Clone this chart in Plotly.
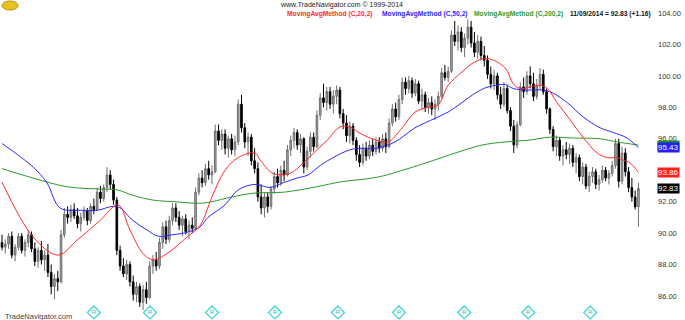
import plotly.graph_objects as go

# ---- OHLC data ----
opens = [89.4, 89.1, 89.3, 89.8, 88.6, 89.1, 89.8, 88.9, 89.4, 89.9,
         89.0, 88.2, 88.9, 88.3, 88.6, 87.5, 86.6, 87.1, 86.9, 89.9,
         91.2, 91.0, 91.5, 91.1, 90.6, 91.0, 91.4, 90.8, 91.7, 91.5,
         92.6, 92.2, 92.9, 93.7, 93.1, 92.1, 88.9, 87.9, 87.4, 88.0,
         86.9, 86.1, 86.6, 85.6, 86.4, 85.9, 87.9, 88.3, 87.9, 89.4,
         90.4, 89.6, 90.8, 91.6, 91.0, 90.5, 90.9, 90.1, 90.5, 90.3,
         92.6, 93.5, 93.2, 94.1, 93.7, 93.9, 96.5, 95.9, 96.3, 95.4,
         96.0, 95.3, 95.8, 98.2, 96.7, 95.8, 96.1, 94.6, 94.1, 92.3,
         91.6, 92.3, 91.7, 92.8, 93.6, 93.2, 94.0, 93.7, 95.3, 95.9,
         96.4, 95.6, 96.0, 94.2, 95.2, 96.1, 95.5, 97.5, 98.6, 98.3,
         99.0, 98.2, 98.7, 99.1, 97.6, 97.0, 96.2, 96.8, 95.9, 95.0,
         94.5, 95.4, 94.9, 95.6, 95.2, 95.8, 95.4, 96.0, 95.5, 97.0,
         97.9, 97.4, 98.5, 99.6, 99.2, 99.7, 98.9, 99.5, 98.4, 98.8,
         98.0, 98.3, 97.9, 98.2, 98.7, 100.2, 99.9, 100.3, 102.6, 102.2,
         102.8, 101.8, 102.4, 103.1, 102.1, 101.5, 102.2, 101.3, 101.0, 100.1,
         99.5, 100.0, 98.8, 98.2, 99.2, 97.8, 96.8, 95.6, 96.9, 99.3,
         99.0, 100.0, 99.5, 98.7, 99.4, 100.1, 99.0, 97.9, 96.6, 95.5,
         95.9, 94.9, 95.3, 95.0, 95.4, 94.5, 94.8, 93.6, 94.2, 93.0,
         93.6, 93.9, 93.1, 93.4, 94.0, 93.5, 93.8, 94.3, 95.7, 93.3,
         95.1, 93.9, 92.9, 92.3, 91.67]
highs = [89.9, 89.6, 90.0, 90.1, 89.3, 90.0, 90.0, 89.6, 90.2, 90.1,
         89.4, 89.1, 89.5, 88.9, 89.3, 88.0, 87.4, 87.6, 90.2, 91.6,
         91.7, 91.8, 91.9, 91.6, 91.3, 91.7, 91.6, 91.9, 92.2, 92.9,
         93.0, 93.1, 94.2, 94.0, 93.4, 92.3, 89.2, 88.4, 88.3, 88.2,
         87.3, 86.9, 86.8, 86.7, 86.9, 88.2, 88.6, 88.8, 89.7, 90.7,
         90.8, 91.1, 91.9, 91.9, 91.4, 91.1, 91.2, 90.8, 91.0, 92.9,
         93.8, 94.0, 94.4, 94.6, 94.3, 96.9, 96.9, 96.6, 96.6, 96.2,
         96.3, 96.2, 98.5, 98.8, 97.0, 96.4, 96.3, 95.4, 94.5, 93.1,
         92.6, 92.6, 93.0, 93.9, 94.1, 94.3, 94.6, 95.6, 96.2, 96.7,
         96.6, 96.3, 96.1, 95.5, 96.4, 96.4, 97.8, 98.9, 99.5, 99.3,
         99.3, 99.1, 99.4, 99.3, 97.9, 97.5, 97.1, 97.0, 96.1, 95.6,
         95.7, 95.8, 95.9, 96.0, 96.1, 96.1, 96.3, 96.4, 97.3, 98.2,
         98.3, 98.8, 99.9, 99.9, 100.0, 99.9, 99.8, 99.7, 99.2, 99.0,
         98.6, 98.7, 98.5, 99.0, 100.5, 100.7, 100.6, 102.9, 103.5, 103.2,
         103.1, 102.7, 103.6, 103.5, 102.8, 102.6, 102.5, 101.9, 101.3, 100.6,
         100.4, 100.2, 99.3, 99.6, 99.4, 98.0, 97.2, 97.1, 99.6, 99.9,
         100.3, 100.6, 100.2, 99.8, 100.5, 100.4, 99.2, 98.0, 96.8, 96.2,
         96.1, 95.6, 95.8, 95.7, 95.6, 95.1, 95.0, 94.5, 94.4, 93.9,
         94.2, 94.1, 93.7, 94.3, 94.2, 94.0, 94.6, 96.0, 96.0, 95.5,
         95.4, 94.2, 93.5, 92.7, 93.2]
lows = [88.9, 88.7, 89.0, 88.4, 88.2, 88.9, 88.7, 88.5, 89.1, 88.8,
        87.9, 87.8, 88.0, 87.6, 87.2, 86.1, 85.8, 86.3, 86.8, 89.7,
        90.6, 90.7, 90.9, 90.3, 90.1, 90.8, 90.5, 90.6, 91.2, 91.4,
        91.9, 92.0, 92.6, 92.8, 91.8, 88.6, 87.6, 87.2, 87.0, 86.6,
        85.7, 85.6, 85.3, 85.1, 85.5, 85.8, 87.4, 87.6, 87.7, 89.0,
        89.3, 89.4, 90.5, 90.7, 90.2, 89.8, 89.9, 89.6, 90.0, 90.2,
        92.4, 92.9, 93.0, 93.4, 93.1, 93.8, 95.6, 95.3, 95.0, 94.8,
        95.0, 94.9, 95.6, 96.4, 95.4, 94.9, 94.3, 93.8, 92.0, 91.2,
        91.0, 91.3, 91.5, 92.5, 92.9, 93.0, 93.3, 93.6, 94.9, 95.4,
        95.3, 95.1, 93.8, 94.0, 94.8, 95.2, 95.4, 97.2, 98.0, 97.8,
        97.9, 97.6, 98.2, 97.3, 96.6, 95.8, 95.7, 95.6, 94.6, 94.2,
        94.3, 94.6, 94.7, 94.9, 95.0, 95.1, 95.2, 95.1, 95.4, 96.8,
        97.1, 97.2, 98.2, 98.8, 98.9, 98.6, 98.7, 98.2, 97.9, 97.7,
        97.6, 97.5, 97.2, 97.8, 98.6, 99.7, 99.6, 100.2, 101.9, 101.6,
        101.5, 101.2, 102.0, 101.8, 101.2, 101.1, 101.0, 100.6, 99.8, 99.2,
        99.1, 98.5, 97.9, 98.0, 97.6, 96.5, 95.1, 95.4, 96.8, 98.6,
        98.8, 99.2, 98.4, 98.5, 99.1, 98.8, 97.6, 96.3, 95.2, 94.9,
        94.6, 94.3, 94.7, 94.4, 94.2, 93.8, 93.3, 93.1, 92.8, 92.6,
        93.2, 92.8, 92.7, 93.2, 93.3, 93.1, 93.6, 94.1, 92.9, 93.1,
        93.6, 92.6, 92.0, 91.5, 90.4]
closes = [89.1, 89.3, 89.8, 88.6, 89.1, 89.8, 88.9, 89.4, 89.9, 89.0,
          88.2, 88.9, 88.3, 88.6, 87.5, 86.6, 87.1, 86.9, 89.9, 91.2,
          91.0, 91.5, 91.1, 90.6, 91.0, 91.4, 90.8, 91.7, 91.5, 92.6,
          92.2, 92.9, 93.7, 93.1, 92.1, 88.9, 87.9, 87.4, 88.0, 86.9,
          86.1, 86.6, 85.6, 86.4, 85.9, 87.9, 88.3, 87.9, 89.4, 90.4,
          89.6, 90.8, 91.6, 91.0, 90.5, 90.9, 90.1, 90.5, 90.3, 92.6,
          93.5, 93.2, 94.1, 93.7, 93.9, 96.5, 95.9, 96.3, 95.4, 96.0,
          95.3, 95.8, 98.2, 96.7, 95.8, 96.1, 94.6, 94.1, 92.3, 91.6,
          92.3, 91.7, 92.8, 93.6, 93.2, 94.0, 93.7, 95.3, 95.9, 96.4,
          95.6, 96.0, 94.2, 95.2, 96.1, 95.5, 97.5, 98.6, 98.3, 99.0,
          98.2, 98.7, 99.1, 97.6, 97.0, 96.2, 96.8, 95.9, 95.0, 94.5,
          95.4, 94.9, 95.6, 95.2, 95.8, 95.4, 96.0, 95.5, 97.0, 97.9,
          97.4, 98.5, 99.6, 99.2, 99.7, 98.9, 99.5, 98.4, 98.8, 98.0,
          98.3, 97.9, 98.2, 98.7, 100.2, 99.9, 100.3, 102.6, 102.2, 102.8,
          101.8, 102.4, 103.1, 102.1, 101.5, 102.2, 101.3, 101.0, 100.1, 99.5,
          100.0, 98.8, 98.2, 99.2, 97.8, 96.8, 95.6, 96.9, 99.3, 99.0,
          100.0, 99.5, 98.7, 99.4, 100.1, 99.0, 97.9, 96.6, 95.5, 95.9,
          94.9, 95.3, 95.0, 95.4, 94.5, 94.8, 93.6, 94.2, 93.0, 93.6,
          93.9, 93.1, 93.4, 94.0, 93.5, 93.8, 94.3, 95.7, 93.3, 95.1,
          93.9, 92.9, 92.3, 91.67, 92.83]
bars = list(range(len(closes)))

# ---- Moving averages (at sample bars) ----
ma20_x = [0, 9.5, 17.1, 22.9, 29.9, 35.4, 39.0, 43.0, 46.0, 50.3, 56.4, 60.4, 64.0, 68.0,
          72.0, 77.1, 78.7, 82.6, 87.8, 91.8, 96.0, 99.1, 103.0, 106.1, 109.1, 114.3,
          117.7, 122.0, 125.9, 129.9, 132.9, 136.0, 140.2, 144.2, 148.2, 153.4, 155.8,
          157.9, 161.0, 164.0, 166.2, 169.2, 173.2, 177.1, 181.4, 184.5, 187.5, 189.3,
          191.5, 194]
ma20_y = [93.25, 89.75, 88.6, 89.55, 90.8, 91.8, 90.2, 88.7, 88.3, 88.7, 89.75, 90.5, 92.3, 94.0,
          94.8, 95.1, 94.65, 93.8, 93.8, 94.45, 95.3, 95.9, 96.75, 96.75, 96.35, 95.9,
          95.8, 96.7, 97.7, 98.0, 98.15, 99.4, 100.25, 100.9, 101.1, 100.5, 99.5,
          99.2, 99.3, 99.4, 99.2, 98.3, 97.2, 96.1, 95.1, 94.8, 94.8, 94.65,
          94.45, 93.86]
ma50_x = [0, 9.5, 13.7, 17.7, 24.7, 29.0, 33.8, 36.0, 39.9, 44.2, 47.6, 52.1, 56.4, 60.4,
          62.8, 68.0, 72.0, 77.1, 81.7, 85.7, 89.9, 93.3, 97.0, 100.9, 106.1, 110.1,
          114.3, 119.8, 125.9, 132.0, 136.0, 140.2, 144.2, 148.2, 153.4, 155.8, 160.1,
          165.0, 168.0, 172.3, 177.1, 182.3, 186.3, 190.5, 194]
ma50_y = [95.7, 94.2, 93.2, 91.6, 91.45, 91.45, 91.7, 91.6, 90.8, 90.2, 89.8, 89.9, 90.05, 90.4,
          91.0, 91.8, 92.75, 93.1, 92.9, 93.2, 93.5, 93.7, 94.3, 94.8, 95.3, 95.4,
          95.4, 95.8, 96.7, 97.3, 97.7, 98.3, 98.9, 99.3, 99.45, 99.2, 99.1,
          99.1, 98.9, 98.3, 97.4, 96.7, 96.4, 96.05, 95.43]
ma200_x = [0, 9.5, 19.8, 29.9, 35.1, 39.9, 46.0, 52.1, 60.4, 64.0, 70.1, 77.1, 85.7, 96.0,
           103.0, 114.3, 121.3, 129.0, 139.0, 146.3, 153.4, 160.1, 167.1, 174.1, 182.3,
           187.5, 194]
ma200_y = [94.1, 93.5, 92.95, 92.8, 92.75, 92.4, 92.1, 92.0, 91.9, 92.0, 92.3, 92.55, 92.6, 92.95,
           93.25, 93.55, 93.95, 94.45, 95.15, 95.6, 95.8, 95.9, 96.1, 96.05, 96.0,
           95.8, 95.6]

event_bars = [28.0, 45.1, 64.0, 83.2, 102.4, 121.0, 140.9, 160.4, 179.3]
ytick_vals = [86, 88, 90, 92, 94, 96, 98, 100, 102, 104]

W, H = 685, 320
PLOT_W = 645
RED, BLUE, GREEN = "#ff2a2a", "#2a2aff", "#2e9a2e"

fig = go.Figure()
fig.add_trace(go.Candlestick(
    x=bars, open=opens, high=highs, low=lows, close=closes,
    increasing=dict(line=dict(color="#6e6e6e", width=1), fillcolor="#a8a8a8"),
    decreasing=dict(line=dict(color="#000000", width=1), fillcolor="#000000"),
    whiskerwidth=0, showlegend=False, hoverinfo="skip"))
fig.add_trace(go.Scatter(x=ma200_x, y=ma200_y, mode="lines", line=dict(color=GREEN, width=1, shape="spline"),
                         showlegend=False, hoverinfo="skip"))
fig.add_trace(go.Scatter(x=ma50_x, y=ma50_y, mode="lines", line=dict(color=BLUE, width=1, shape="spline"),
                         showlegend=False, hoverinfo="skip"))
fig.add_trace(go.Scatter(x=ma20_x, y=ma20_y, mode="lines", line=dict(color=RED, width=1, shape="spline"),
                         showlegend=False, hoverinfo="skip"))
fig.add_trace(go.Scatter(x=event_bars, y=[84.95] * len(event_bars), mode="markers+text",
                         marker=dict(symbol="diamond", size=10, color="rgba(255,255,255,0)",
                                     line=dict(color="#3fd3d3", width=1.2)),
                         text=["R"] * len(event_bars), textposition="middle center",
                         textfont=dict(size=6, color="#2bbcbc", family="Liberation Sans"),
                         showlegend=False, hoverinfo="skip", cliponaxis=False))

FONT = "Liberation Sans, Arial, sans-serif"
ann = []
ann.append(dict(text="www.TradeNavigator.com © 1999-2014", x=278 / PLOT_W, y=1 - 5 / H,
                xref="paper", yref="paper", xanchor="left", yanchor="middle", showarrow=False,
                font=dict(size=7, color="#222", family=FONT)))
legend_items = [("MovingAvgMethod (C,20,2)", RED, 285), ("MovingAvgMethod (C,50,2)", BLUE, 380),
                ("MovingAvgMethod (C,200,2)", GREEN, 472), ("11/09/2014 = 92.83 (+1.16)", "#111", 568)]
for txt, col, px in legend_items:
    ann.append(dict(text="<b>" + txt + "</b>", x=px / PLOT_W, y=1 - 14 / H, xref="paper", yref="paper",
                    xanchor="left", yanchor="middle", showarrow=False,
                    font=dict(size=6.7, color=col, family=FONT)))
ann.append(dict(text="TradeNavigator.com", x=3 / PLOT_W, y=1 - 316 / H, xref="paper", yref="paper",
                xanchor="left", yanchor="middle", showarrow=False,
                font=dict(size=7.5, color="#444", family=FONT)))
# last-value badges
for val, bg in [(ma200_y[-1], "#1e8c1e"), (ma50_y[-1], "#1f1fff"), (ma20_y[-1], "#ff1f1f"), (closes[-1], "#000000")]:
    ann.append(dict(text="%.2f" % val, x=657 / PLOT_W, y=val, xref="paper", yref="y",
                    xanchor="left", yanchor="middle", showarrow=False, bgcolor=bg,
                    borderpad=0, font=dict(size=8, color="#ffffff", family=FONT)))

fig.update_layout(
    width=W, height=H, margin=dict(l=0, r=W - PLOT_W, t=0, b=0),
    paper_bgcolor="white", plot_bgcolor="white",
    annotations=ann,
    shapes=[dict(type="circle", xref="paper", yref="paper", x0=2 / PLOT_W, x1=18 / PLOT_W,
                 y0=1 - 10 / H, y1=1 - 1 / H, fillcolor="#e8c21c", line=dict(color="#b8920c", width=1))],
    xaxis=dict(range=[-0.61, 196.0], showgrid=False, zeroline=False, showticklabels=False,
               showline=False, rangeslider=dict(visible=False), fixedrange=True),
    yaxis=dict(range=[84.47, 104.83], side="right", showgrid=False, zeroline=False,
               tickvals=ytick_vals, tickformat=".2f", ticks="", ticklabelstandoff=12,
               tickfont=dict(size=7.5, color="#333", family=FONT), showline=False),
)
fig.write_html("out.html")
